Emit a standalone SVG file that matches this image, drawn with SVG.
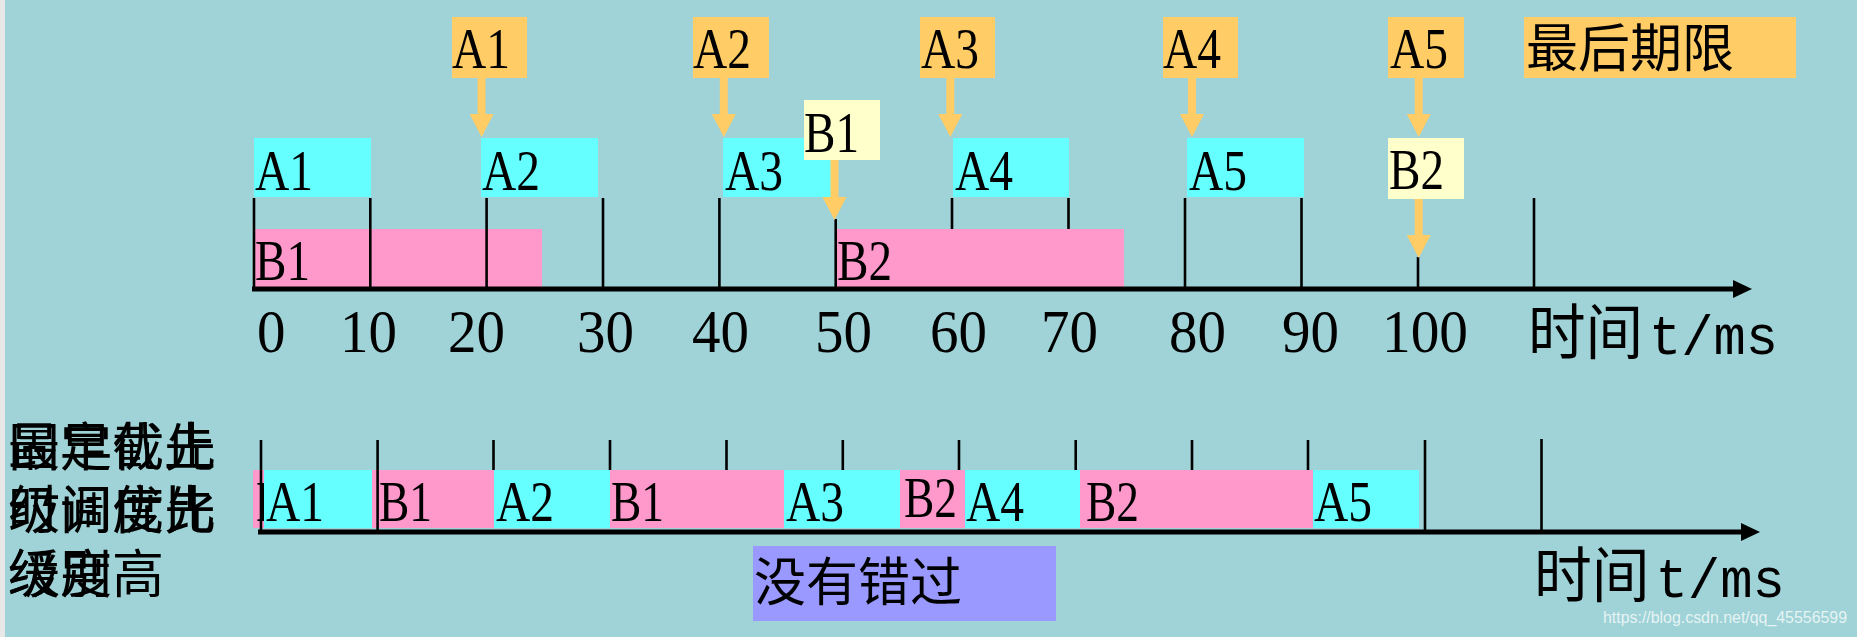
<svg xmlns="http://www.w3.org/2000/svg" width="1857" height="637" viewBox="0 0 1857 637">
<style>
.org{fill:#FFCC66}
.cy{fill:#66FFFF}
.pk{fill:#FF99CC}
.yl{fill:#FFFFCC}
.pu{fill:#9999FF}
.lbl{font-family:"Liberation Serif",serif;font-size:56px;fill:#000}
.num{font-family:"Liberation Serif",serif;font-size:62px;fill:#000}
.cjk{font-family:"Noto Sans CJK SC",sans-serif;font-size:52px;fill:#000}
.big{font-family:"Noto Sans CJK SC",sans-serif;font-size:60px;fill:#000}
.mono{font-family:"Liberation Mono",monospace;font-size:56px}
.tick{stroke:#000;stroke-width:2.6;fill:none}
.axis{stroke:#000;stroke-width:5;fill:none}
.arr{stroke:#FFCC66;stroke-width:8;fill:none}
</style>
<defs>
<marker id="oh" markerUnits="userSpaceOnUse" markerWidth="24" markerHeight="24" viewBox="0 0 23 24" refX="0" refY="12" orient="auto">
<path d="M0,0 L23,12 L0,24 Z" fill="#FFCC66"/>
</marker>
<marker id="bh" markerUnits="userSpaceOnUse" markerWidth="19" markerHeight="18" viewBox="0 0 18 17" refX="0" refY="8.5" orient="auto">
<path d="M0,0 L18,8.5 L0,17 Z" fill="#000"/>
</marker>
</defs>
<rect x="0" y="0" width="1857" height="637" fill="#9FD3D7"/>
<rect x="0" y="0" width="5" height="637" fill="#E8E8E8"/>

<!-- top timeline -->
<g id="top-deadlines">
<g id="dl-A1"><rect class="org" x="452" y="17" width="75" height="61"/><text class="lbl" x="452" y="68" textLength="58" lengthAdjust="spacingAndGlyphs">A1</text></g>
<g id="dl-A2"><rect class="org" x="693" y="17" width="76" height="61"/><text class="lbl" x="693" y="68" textLength="58" lengthAdjust="spacingAndGlyphs">A2</text></g>
<g id="dl-A3"><rect class="org" x="920" y="17" width="75" height="61"/><text class="lbl" x="921" y="68" textLength="58" lengthAdjust="spacingAndGlyphs">A3</text></g>
<g id="dl-A4"><rect class="org" x="1163" y="17" width="75" height="61"/><text class="lbl" x="1163" y="68" textLength="58" lengthAdjust="spacingAndGlyphs">A4</text></g>
<g id="dl-A5"><rect class="org" x="1388" y="17" width="76" height="61"/><text class="lbl" x="1390" y="68" textLength="58" lengthAdjust="spacingAndGlyphs">A5</text></g>
<g id="legend"><rect class="org" x="1524" y="17" width="272" height="61"/><text class="cjk" x="1526" y="67">最后期限</text></g>
</g>

<g id="top-A1"><rect class="cy" x="254" y="138" width="117" height="59"/><text class="lbl" x="255" y="190" textLength="58" lengthAdjust="spacingAndGlyphs">A1</text></g>
<g id="top-A2"><rect class="cy" x="481" y="138" width="117" height="59"/><text class="lbl" x="482" y="190" textLength="58" lengthAdjust="spacingAndGlyphs">A2</text></g>
<g id="top-A3"><rect class="cy" x="723" y="138" width="111" height="59"/><text class="lbl" x="725" y="190" textLength="58" lengthAdjust="spacingAndGlyphs">A3</text></g>
<g id="top-A4"><rect class="cy" x="953" y="138" width="116" height="59"/><text class="lbl" x="955" y="190" textLength="58" lengthAdjust="spacingAndGlyphs">A4</text></g>
<g id="top-A5"><rect class="cy" x="1187" y="138" width="117" height="59"/><text class="lbl" x="1189" y="190" textLength="58" lengthAdjust="spacingAndGlyphs">A5</text></g>
<g id="top-B1"><rect class="pk" x="254" y="229" width="288" height="58"/><text class="lbl" x="255" y="280" textLength="55" lengthAdjust="spacingAndGlyphs">B1</text></g>
<g id="top-B2"><rect class="pk" x="836" y="229" width="288" height="58"/><text class="lbl" x="837" y="280" textLength="55" lengthAdjust="spacingAndGlyphs">B2</text></g>
<g id="dl-B1"><rect class="yl" x="804" y="100" width="76" height="60"/><text class="lbl" x="804" y="152" textLength="55" lengthAdjust="spacingAndGlyphs">B1</text></g>
<g id="dl-B2"><rect class="yl" x="1388" y="138" width="76" height="61"/><text class="lbl" x="1389" y="189" textLength="55" lengthAdjust="spacingAndGlyphs">B2</text></g>

<g id="top-axis">
<path class="tick" d="M254,198V288 M370.3,198V288 M486.6,198V288 M603,198V288 M719.4,198V288 M835.7,219V288 M952,198V229 M1068.5,198V229 M1185,198V288 M1301.5,198V288 M1418,257V288 M1534,198V288"/>
<line class="axis" x1="252" y1="289" x2="1733" y2="289" marker-end="url(#bh)"/>
<text class="num" x="257" y="352" textLength="28.5" lengthAdjust="spacingAndGlyphs">0</text>
<text class="num" x="340" y="352" textLength="57" lengthAdjust="spacingAndGlyphs">10</text>
<text class="num" x="448" y="352" textLength="57" lengthAdjust="spacingAndGlyphs">20</text>
<text class="num" x="577" y="352" textLength="57" lengthAdjust="spacingAndGlyphs">30</text>
<text class="num" x="692" y="352" textLength="57" lengthAdjust="spacingAndGlyphs">40</text>
<text class="num" x="815" y="352" textLength="57" lengthAdjust="spacingAndGlyphs">50</text>
<text class="num" x="930" y="352" textLength="57" lengthAdjust="spacingAndGlyphs">60</text>
<text class="num" x="1041" y="352" textLength="57" lengthAdjust="spacingAndGlyphs">70</text>
<text class="num" x="1169" y="352" textLength="57" lengthAdjust="spacingAndGlyphs">80</text>
<text class="num" x="1282" y="352" textLength="57" lengthAdjust="spacingAndGlyphs">90</text>
<text class="num" x="1382" y="352" textLength="86" lengthAdjust="spacingAndGlyphs">100</text>
<text class="big" x="1528" y="354" textLength="250" lengthAdjust="spacingAndGlyphs">时间<tspan class="mono" dx="6">t/ms</tspan></text>
</g>

<g id="connectors">
<line class="arr" x1="481.6" y1="78" x2="481.6" y2="114" marker-end="url(#oh)"/>
<line class="arr" x1="723.8" y1="78" x2="723.8" y2="114" marker-end="url(#oh)"/>
<line class="arr" x1="950.3" y1="78" x2="950.3" y2="114" marker-end="url(#oh)"/>
<line class="arr" x1="1192" y1="78" x2="1192" y2="114" marker-end="url(#oh)"/>
<line class="arr" x1="1418.7" y1="78" x2="1418.7" y2="114" marker-end="url(#oh)"/>
<line class="arr" x1="834.5" y1="160" x2="834.5" y2="197" marker-end="url(#oh)"/>
<line class="arr" x1="1418.7" y1="199" x2="1418.7" y2="235" marker-end="url(#oh)"/>
</g>

<!-- bottom timeline -->
<g id="left-label">
<text class="cjk" x="8" y="466">最早截止</text>
<text class="cjk" x="8" y="529">时间优先</text>
<text class="cjk" x="8" y="593">级别高</text>
<text class="cjk" x="8" y="466">固定优先</text>
<text class="cjk" x="8" y="529">级调度比</text>
<text class="cjk" x="8" y="593">缓度</text>
</g>
<g id="bot-B1a"><rect class="pk" x="253" y="470" width="12" height="58"/><text class="lbl" x="256" y="521" textLength="55" lengthAdjust="spacingAndGlyphs">B1</text></g>
<g id="bot-A1"><rect class="cy" x="264" y="470" width="108" height="58"/><text class="lbl" x="266" y="521" textLength="58" lengthAdjust="spacingAndGlyphs">A1</text></g>
<g id="bot-B1b"><rect class="pk" x="372" y="470" width="122" height="58"/><text class="lbl" x="379" y="521" textLength="53" lengthAdjust="spacingAndGlyphs">B1</text></g>
<g id="bot-A2"><rect class="cy" x="494" y="470" width="116" height="58"/><text class="lbl" x="496" y="521" textLength="58" lengthAdjust="spacingAndGlyphs">A2</text></g>
<g id="bot-B1c"><rect class="pk" x="610" y="470" width="174" height="58"/><text class="lbl" x="611" y="521" textLength="53" lengthAdjust="spacingAndGlyphs">B1</text></g>
<g id="bot-A3"><rect class="cy" x="784" y="470" width="116" height="58"/><text class="lbl" x="786" y="521" textLength="58" lengthAdjust="spacingAndGlyphs">A3</text></g>
<g id="bot-B2a"><rect class="pk" x="900" y="470" width="65" height="58"/><text class="lbl" x="904" y="517" textLength="53" lengthAdjust="spacingAndGlyphs">B2</text></g>
<g id="bot-A4"><rect class="cy" x="965" y="470" width="115" height="58"/><text class="lbl" x="966" y="521" textLength="58" lengthAdjust="spacingAndGlyphs">A4</text></g>
<g id="bot-B2b"><rect class="pk" x="1080" y="470" width="233" height="58"/><text class="lbl" x="1086" y="521" textLength="53" lengthAdjust="spacingAndGlyphs">B2</text></g>
<g id="bot-A5"><rect class="cy" x="1313" y="470" width="106" height="58"/><text class="lbl" x="1314" y="521" textLength="58" lengthAdjust="spacingAndGlyphs">A5</text></g>

<g id="bot-axis">
<path class="tick" d="M261,440V532 M377.6,440V532 M493.5,440V470 M610,440V470 M726.5,440V470 M842.8,440V470 M959,440V470 M1075.7,440V470 M1192,440V470 M1308,440V470 M1425,440V532 M1541.5,439V532"/>
<line class="axis" x1="258" y1="532" x2="1741" y2="532" marker-end="url(#bh)"/>
<text class="big" x="1534" y="597" textLength="251" lengthAdjust="spacingAndGlyphs">时间<tspan class="mono" dx="6">t/ms</tspan></text>
</g>
<g id="note"><rect class="pu" x="753" y="546" width="303" height="75"/><text class="cjk" x="754" y="601">没有错过</text></g>
<text x="1603" y="623" font-family="Liberation Sans, sans-serif" font-size="16" fill="#FFFFFF" fill-opacity="0.75" textLength="244" lengthAdjust="spacingAndGlyphs">https://blog.csdn.net/qq_45556599</text>
</svg>
